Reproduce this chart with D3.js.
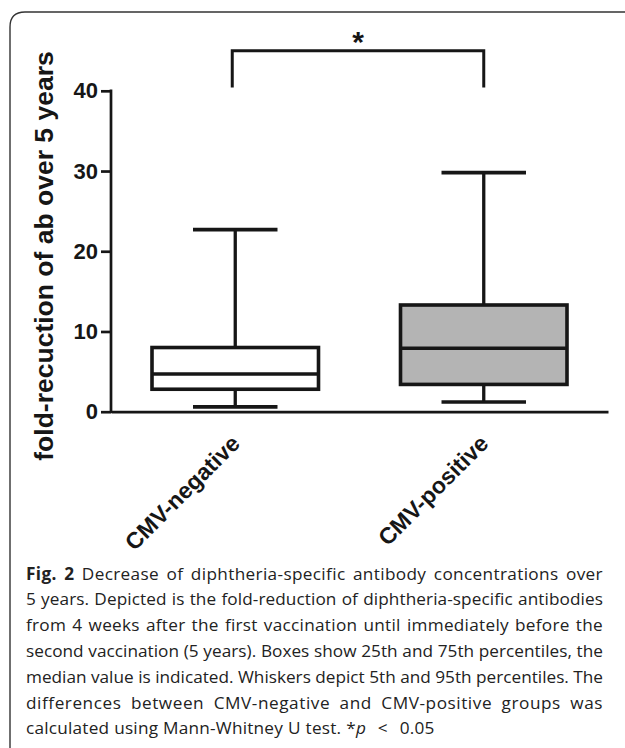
<!DOCTYPE html>
<html>
<head>
<meta charset="utf-8">
<script src="https://cdn.jsdelivr.net/npm/d3@7"></script>
<style>
  body { margin: 0; background: #fff; }
  svg { display: block; }
</style>
</head>
<body>
<div id="chart"></div>
<script>
// box plot values
var groups = ["CMV-negative", "CMV-positive"];
var p5 = [0.6, 1.2];
var q1 = [2.8, 3.4];
var median = [4.7, 7.9];
var q3 = [8.0, 13.3];
var p95 = [22.7, 29.8];

var yTicks = [0, 10, 20, 30, 40];
var yTitle = "fold-recuction of ab over 5 years";

// significance bracket (top, foot of legs) and its mark
var bracketY = [45, 40.4];
var sigMark = "*";

// caption, [b] = bold rest of word, [i] = italic rest of word
var caption = [
  "[b]Fig. [b]2 Decrease of diphtheria-specific antibody concentrations over",
  "5 years. Depicted is the fold-reduction of diphtheria-specific antibodies",
  "from 4 weeks after the first vaccination until immediately before the",
  "second vaccination (5 years). Boxes show 25th and 75th percentiles, the",
  "median value is indicated. Whiskers depict 5th and 95th percentiles. The",
  "differences between CMV-negative and CMV-positive groups was",
  "calculated using Mann-Whitney U test. *[i]p < 0.05"
];

var width = 625, height = 748;
var ink = "#161616";
var chartFont = "'Liberation Sans', Arial, sans-serif";
var capFont = "'Open Sans', Lato, sans-serif";

var svg = d3.select("#chart").append("svg")
  .attr("width", width)
  .attr("height", height);

// rounded frame, open to the right and bottom
svg.append("path")
  .attr("d", "M10,760 L10,27 Q10,12 25,12 L640,12")
  .attr("fill", "none")
  .attr("stroke", "#333")
  .attr("stroke-width", 1.4);

var x = d3.scaleBand()
  .domain(groups)
  .range([111, 608]);

var y = d3.scaleLinear()
  .domain([0, 45])
  .range([411.7, 50.7]);

var data = groups.map(function(g, i) {
  return {name: g, lo: p5[i], q1: q1[i], med: median[i], q3: q3[i], hi: p95[i], i: i};
});

var cx = function(d) { return x(d.name) + x.bandwidth() / 2; };
var boxW = x.bandwidth() * 0.67;
var capW = x.bandwidth() * 0.34;

// y axis
var gy = svg.append("g")
  .attr("transform", "translate(111,0)")
  .call(d3.axisLeft(y).tickValues(yTicks).tickSize(10).tickPadding(3).tickFormat(d3.format("d")));
gy.select(".domain").remove();
gy.selectAll(".tick line").attr("stroke", ink).attr("stroke-width", 2.7);
gy.selectAll(".tick text")
  .attr("fill", ink)
  .style("font-family", chartFont)
  .style("font-weight", "bold")
  .style("font-size", "22px");
gy.append("line")
  .attr("y1", y(0) + 1.3)
  .attr("y2", y(d3.max(yTicks)) - 1.3)
  .attr("stroke", ink)
  .attr("stroke-width", 2.7);

// x axis
var gx = svg.append("g")
  .attr("transform", "translate(0," + y(0) + ")")
  .call(d3.axisBottom(x).tickSize(0).tickSizeOuter(0).tickFormat(""));
gx.select(".domain").attr("stroke", ink).attr("stroke-width", 2.7);

svg.append("g").selectAll("text")
  .data(groups)
  .join("text")
  .attr("transform", function(d) {
    return "translate(" + (x(d) + x.bandwidth() / 2 + 6) + ",445) rotate(-45)";
  })
  .attr("text-anchor", "end")
  .attr("fill", ink)
  .style("font-family", chartFont)
  .style("font-weight", "bold")
  .style("font-size", "23px")
  .text(function(d) { return d; });

// y title
svg.append("text")
  .attr("transform", "translate(53,256) rotate(-90)")
  .attr("text-anchor", "middle")
  .attr("fill", ink)
  .style("font-family", chartFont)
  .style("font-weight", "bold")
  .style("font-size", "26.5px")
  .text(yTitle);

// boxes
var boxes = svg.append("g")
  .attr("stroke", ink)
  .attr("stroke-width", 3.6);

var bx = boxes.selectAll("g")
  .data(data)
  .join("g");

bx.append("line")
  .attr("x1", cx).attr("x2", cx)
  .attr("y1", function(d) { return y(d.q3); })
  .attr("y2", function(d) { return y(d.hi); })
  .attr("stroke-width", 3.3);
bx.append("line")
  .attr("x1", cx).attr("x2", cx)
  .attr("y1", function(d) { return y(d.q1); })
  .attr("y2", function(d) { return y(d.lo); })
  .attr("stroke-width", 3.3);
bx.append("line")
  .attr("x1", function(d) { return cx(d) - capW / 2; })
  .attr("x2", function(d) { return cx(d) + capW / 2; })
  .attr("y1", function(d) { return y(d.hi); })
  .attr("y2", function(d) { return y(d.hi); });
bx.append("line")
  .attr("x1", function(d) { return cx(d) - capW / 2; })
  .attr("x2", function(d) { return cx(d) + capW / 2; })
  .attr("y1", function(d) { return y(d.lo); })
  .attr("y2", function(d) { return y(d.lo); });
bx.append("rect")
  .attr("x", function(d) { return cx(d) - boxW / 2; })
  .attr("width", boxW)
  .attr("y", function(d) { return y(d.q3); })
  .attr("height", function(d) { return y(d.q1) - y(d.q3); })
  .attr("fill", function(d) { return d.i === 1 ? "#b4b4b4" : "#fff"; });
bx.append("line")
  .attr("x1", function(d) { return cx(d) - boxW / 2; })
  .attr("x2", function(d) { return cx(d) + boxW / 2; })
  .attr("y1", function(d) { return y(d.med); })
  .attr("y2", function(d) { return y(d.med); });

// significance bracket
var xa = x(groups[0]) + x.bandwidth() / 2 - 3;
var xb = x(groups[1]) + x.bandwidth() / 2;
svg.append("path")
  .attr("d", "M" + xa + "," + y(bracketY[1]) + "V" + y(bracketY[0]) + "H" + xb + "V" + y(bracketY[1]))
  .attr("fill", "none")
  .attr("stroke", ink)
  .attr("stroke-width", 3);
svg.append("text")
  .attr("x", (xa + xb) / 2)
  .attr("y", y(bracketY[0]) + 1)
  .attr("text-anchor", "middle")
  .attr("fill", ink)
  .style("font-family", chartFont)
  .style("font-weight", "bold")
  .style("font-size", "30px")
  .text(sigMark);

// caption, justified like the journal layout
var capLeft = 26, capRight = 603, capTop = 579.5, capStep = 25.8;
var capG = svg.append("g").attr("fill", "#222").style("font-family", capFont);

function segs(word) {
  var m = word.match(/^(.*?)\[(b|i)\](.*)$/);
  if (!m) return [{t: word}];
  var out = [];
  if (m[1]) out.push({t: m[1]});
  out.push({t: m[3], b: m[2] === "b", i: m[2] === "i"});
  return out;
}

function drawWord(g, word, size, ls) {
  var t = g.append("text")
    .style("font-size", size + "px")
    .style("letter-spacing", (ls || 0) + "px");
  segs(word).forEach(function(s) {
    t.append("tspan")
      .style("font-weight", s.b ? "bold" : "normal")
      .style("font-style", s.i ? "italic" : "normal")
      .text(s.t);
  });
  return t;
}

function measure(size) {
  var tmp = capG.append("g");
  var sp = drawWord(tmp, "a a", size).node().getComputedTextLength() -
           drawWord(tmp, "aa", size).node().getComputedTextLength();
  var lines = caption.map(function(line) {
    var words = line.split(" ");
    var w = d3.sum(words, function(word) {
      return drawWord(tmp, word, size).node().getComputedTextLength();
    });
    var chars = d3.sum(words, function(word) { return word.replace(/\[(b|i)\]/g, "").length; });
    return {w: w + sp * (words.length - 1), chars: chars, n: words.length};
  });
  tmp.remove();
  return {lines: lines, space: sp};
}

var target = capRight - capLeft;
var capSize = 16;
var m0 = measure(capSize);
capSize = Math.max(14.5, Math.min(17.5, capSize * target / d3.max(m0.lines, function(l) { return l.w; })));
var mm = measure(capSize);

// share the slack of each justified line between letters and word gaps
var lsList = mm.lines.slice(0, -1).map(function(l) {
  return Math.min(0.9, Math.max(0, (target - l.w) * 0.5 / l.chars));
});
var lsLast = d3.mean(lsList);

caption.forEach(function(line, li) {
  var words = line.split(" ");
  var last = li === caption.length - 1;
  var ls = last ? lsLast : lsList[li];
  var lg = capG.append("g");
  var nodes = words.map(function(w) { return drawWord(lg, w, capSize, ls); });
  var widths = nodes.map(function(t) { return t.node().getComputedTextLength(); });
  var total = d3.sum(widths);
  var gap = last ? mm.space + ls * 2 : (target - total) / (words.length - 1);
  var xp = capLeft;
  nodes.forEach(function(t, k) {
    t.attr("x", xp).attr("y", capTop + li * capStep);
    // wider spacing around the relation sign, as in the source
    var wide = last && (words[k] === "<" || words[k + 1] === "<");
    xp += widths[k] + gap * (wide ? 2.4 : 1);
  });
});
</script>
</body>
</html>
